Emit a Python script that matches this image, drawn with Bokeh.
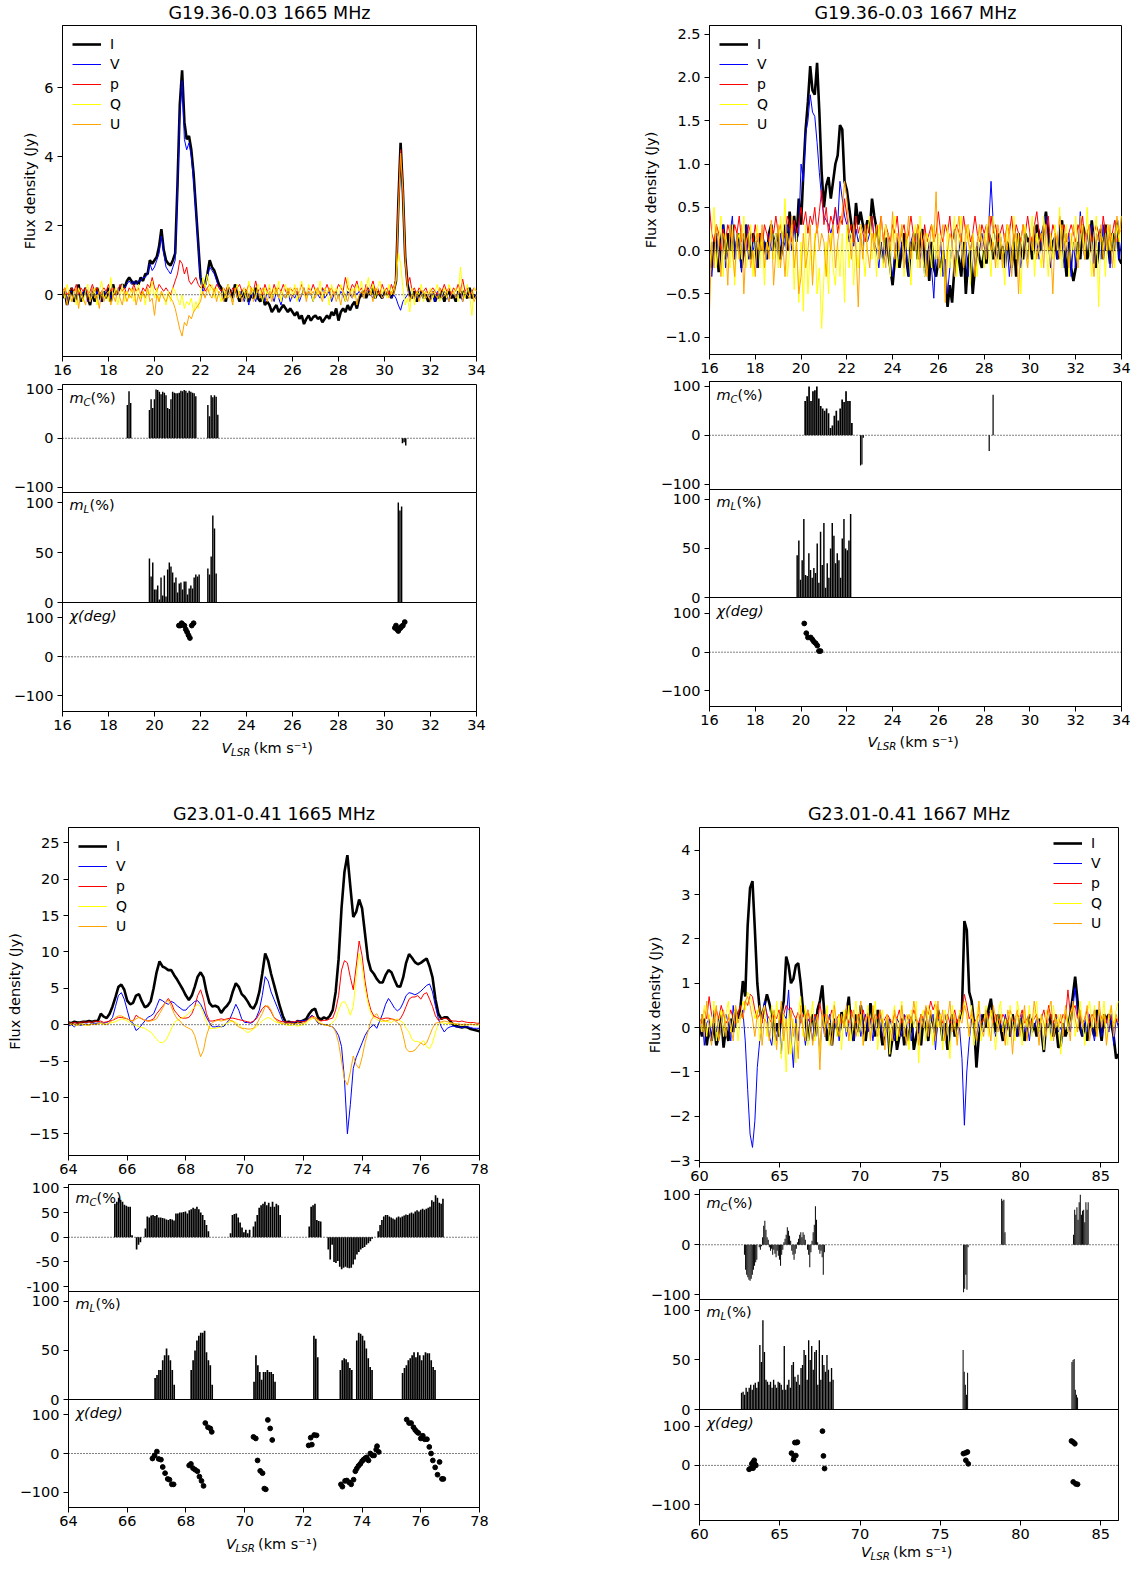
import numpy as np
from bokeh.plotting import figure
from bokeh.layouts import column, row
from bokeh.models import Range1d, FixedTicker, Span, Label, Legend, LegendItem, CustomJSTickFormatter
from bokeh.embed import file_html
from bokeh.resources import INLINE

FONT = "DejaVu Sans"

# ====================== Panel A : G19.36-0.03 1665 MHz ======================
A_TITLE = "G19.36-0.03 1665 MHz"
A_VEL = (16.0, 34.0)
A_I = [-0.1, 0.1, -0.3, 0.0, 0.2, -0.2, -0.1, 0.3, -0.2, 0.0,
       0.2, -0.1, -0.3, 0.1, -0.2, 0.2, 0.0, -0.2, 0.1, -0.1,
       0.2, -0.2, 0.3, 0.0, 0.1, 0.2, 0.3, 0.2, 0.4, 0.5,
       0.4, 0.3, 0.4, 0.3, 0.5, 0.4, 0.6, 0.6, 1.0, 0.9,
       1.0, 1.1, 1.4, 1.9, 1.3, 1.0, 0.9, 0.85, 1.0, 1.2,
       3.2, 5.5, 6.5, 5.0, 4.5, 4.6, 4.2, 3.5, 2.5, 1.5,
       0.5, 0.2, 0.3, 0.6, 1.0, 0.8, 0.7, 0.5, 0.3, 0.2,
       0.0, -0.2, 0.2, 0.1, -0.1, 0.3, 0.0, -0.2, 0.1, -0.1,
       0.1, -0.2, 0.0, -0.1, 0.2, -0.1, -0.2, 0.0, -0.3, -0.2,
       -0.3, -0.5, -0.4, -0.3, -0.5, -0.4, -0.3, -0.4, -0.5, -0.4,
       -0.5, -0.6, -0.5, -0.7, -0.6, -0.85, -0.7, -0.6, -0.75, -0.65,
       -0.6, -0.7, -0.65, -0.8, -0.7, -0.6, -0.7, -0.5, -0.6, -0.4,
       -0.75, -0.5, -0.4, -0.5, -0.3, -0.45, -0.3, -0.2, -0.4, -0.1,
       0.0, 0.1, -0.1, 0.1, 0.0, 0.2, -0.1, 0.1, 0.0, -0.1,
       0.1, 0.0, 0.1, -0.1, 0.1, 0.4, 2.6, 4.4, 3.0, 1.1,
       0.3, 0.0, -0.1, 0.1, -0.2, 0.0, 0.1, -0.1, 0.0, -0.2,
       -0.1, 0.1, -0.2, 0.0, -0.1, 0.1, -0.2, 0.0, 0.1, -0.1,
       0.0, -0.2, 0.1, -0.1, 0.1, 0.0, -0.1, 0.2, -0.1, 0.0,
       -0.1]
A_V = [0.0, 0.1, -0.2, 0.1, 0.1, -0.1, 0.0, 0.2, -0.1, 0.1,
       0.1, -0.2, -0.1, 0.2, -0.1, 0.1, -0.1, -0.2, 0.1, 0.0,
       0.1, -0.1, 0.2, 0.1, 0.0, 0.2, 0.3, 0.2, 0.3, 0.4,
       0.3, 0.4, 0.3, 0.4, 0.4, 0.5, 0.5, 0.6, 0.9, 0.7,
       0.8, 1.0, 1.2, 1.7, 1.2, 0.8, 0.7, 0.6, 0.8, 1.0,
       3.0, 5.2, 6.2, 4.5, 4.2, 4.4, 4.0, 3.3, 2.4, 1.4,
       0.4, 0.1, 0.2, 0.5, 0.8, 0.7, 0.6, 0.4, 0.2, 0.1,
       0.1, -0.1, 0.2, 0.0, -0.2, 0.1, 0.0, -0.1, 0.1, -0.2,
       0.0, -0.3, 0.1, 0.0, -0.2, 0.1, -0.1, 0.0, -0.2, 0.1,
       -0.1, 0.0, -0.2, 0.1, -0.1, -0.3, 0.0, -0.1, 0.1, -0.2,
       0.0, -0.1, 0.1, -0.2, 0.0, 0.2, -0.1, 0.1, 0.0, -0.2,
       0.1, 0.0, -0.1, 0.2, -0.1, 0.0, 0.1, -0.2, 0.0, 0.1,
       -0.1, 0.1, 0.0, -0.2, 0.1, 0.0, -0.1, 0.1, 0.0, 0.1,
       0.0, -0.1, 0.1, 0.2, 0.0, -0.1, 0.1, 0.0, 0.1, -0.1,
       0.1, 0.0, 0.1, -0.1, 0.0, -0.1, -0.3, -0.45, -0.2, -0.1,
       0.0, 0.1, -0.1, 0.0, -0.1, 0.1, 0.0, -0.1, 0.1, 0.0,
       -0.1, 0.1, -0.2, 0.1, 0.0, -0.1, 0.1, 0.0, -0.2, 0.1,
       0.0, -0.1, 0.1, 0.0, -0.2, 0.1, 0.0, -0.1, 0.1, 0.0,
       -0.1]
A_P = [0.1, 0.2, 0.0, 0.1, 0.2, 0.1, 0.3, 0.0, 0.2, 0.1,
       0.2, 0.0, 0.1, 0.3, 0.1, 0.2, 0.0, 0.1, 0.2, 0.1,
       0.3, 0.1, 0.2, 0.0, 0.1, 0.3, 0.1, 0.2, 0.0, 0.2,
       0.1, 0.3, 0.1, 0.2, 0.0, 0.2, 0.1, 0.3, 0.2, 0.5,
       0.2, 0.1, 0.3, 0.2, 0.1, 0.2, 0.1, 0.0, 0.2, 0.4,
       0.6, 1.0, 0.9, 0.6, 0.8, 0.4, 0.3, 0.4, 0.5, 0.3,
       0.2, 0.3, 0.1, 0.2, 0.3, 0.2, 0.1, 0.3, 0.2, 0.1,
       0.2, 0.1, 0.3, 0.0, 0.2, 0.1, 0.2, 0.3, 0.1, 0.2,
       0.1, 0.3, 0.2, 0.1, 0.4, 0.1, 0.2, 0.0, 0.3, 0.1,
       0.2, 0.0, 0.3, 0.1, 0.2, 0.1, 0.3, 0.1, 0.0, 0.2,
       0.1, 0.2, 0.0, 0.1, 0.3, 0.1, 0.0, 0.2, 0.1, 0.3,
       0.1, 0.2, 0.0, 0.2, 0.1, 0.3, 0.1, 0.2, 0.0, 0.1,
       0.3, 0.2, 0.1, 0.5, 0.2, 0.1, 0.3, 0.2, 0.4, 0.1,
       0.2, 0.0, 0.3, 0.1, 0.2, 0.4, 0.1, 0.2, 0.0, 0.3,
       0.1, 0.2, 0.0, 0.3, 0.1, 0.5, 2.6, 4.2, 3.1, 1.2,
       0.3, 0.5, 0.1, 0.2, 0.0, 0.2, 0.1, 0.1, 0.2, 0.0,
       0.1, 0.2, 0.1, 0.0, 0.2, 0.1, 0.3, 0.1, 0.2, 0.0,
       0.2, 0.1, 0.3, 0.1, 0.45, 0.1, 0.2, 0.0, 0.1, 0.2,
       0.1]
A_Q = [0.2, -0.1, 0.3, 0.0, -0.2, 0.1, -0.3, 0.2, 0.0, -0.2,
       0.1, 0.3, -0.2, 0.0, 0.2, -0.3, 0.1, 0.4, -0.1, 0.0,
       -0.2, 0.5, -0.1, 0.2, -0.3, 0.0, 0.3, -0.2, 0.1, -0.1,
       0.2, -0.2, 0.0, 0.3, -0.1, 0.1, -0.3, 0.2, 0.0, 0.4,
       -0.1, 0.2, -0.2, 0.1, 0.0, -0.3, 0.1, -0.2, 0.2, 0.1,
       -0.1, -0.3, 0.0, -0.4, -0.2, -0.3, -0.1, -0.5, -0.2, -0.4,
       0.0, 0.5, 0.2, 0.6, 0.1, 0.3, -0.1, 0.2, 0.0, -0.2,
       0.2, -0.1, 0.3, 0.0, -0.2, 0.1, 0.3, -0.1, 0.0, 0.2,
       -0.2, 0.4, 0.0, 0.2, -0.1, 0.3, 0.1, -0.2, 0.2, 0.0,
       0.3, -0.1, 0.2, 0.0, 0.4, -0.2, 0.1, 0.3, -0.1, 0.2,
       0.0, 0.3, -0.2, 0.1, 0.4, 0.0, -0.1, 0.3, 0.1, -0.2,
       0.2, 0.0, 0.4, -0.1, 0.2, 0.1, -0.3, 0.3, 0.0, 0.2,
       -0.1, 0.3, 0.1, -0.2, 0.5, 0.0, 0.2, -0.1, 0.3, 0.1,
       0.4, -0.1, 0.2, 0.5, 0.0, 0.3, -0.1, 0.2, 0.4, 0.0,
       0.2, -0.1, 0.3, 0.0, 0.2, 0.4, 1.2, 0.9, 0.2, -0.3,
       -0.1, -0.5, 0.2, -0.3, 0.1, 0.0, 0.3, -0.2, 0.1, 0.0,
       0.2, -0.1, 0.1, 0.3, -0.2, 0.0, 0.2, -0.1, 0.3, 0.1,
       0.0, 0.2, -0.2, 0.8, 0.1, -0.1, 0.3, 0.0, -0.6, 0.2,
       0.1]
A_U = [-0.1, 0.2, -0.3, 0.1, -0.2, 0.0, 0.2, -0.4, 0.1, -0.1,
       -0.3, 0.1, -0.2, 0.2, -0.1, 0.0, -0.4, 0.1, -0.2, 0.0,
       0.1, -0.3, 0.0, -0.2, 0.2, -0.1, -0.3, 0.1, -0.2, 0.0,
       -0.1, 0.2, -0.3, 0.0, -0.2, 0.1, -0.1, 0.2, -0.2, -0.1,
       -0.6, 0.0, -0.2, 0.1, -0.1, -0.2, 0.0, -0.1, -0.2, -0.4,
       -0.7, -1.0, -1.2, -0.8, -0.9, -0.6, -0.7, -0.5, -0.4, -0.3,
       -0.2, 0.1, -0.1, 0.2, 0.0, -0.1, 0.2, -0.2, 0.1, 0.0,
       -0.2, 0.1, -0.1, 0.0, -0.3, 0.2, -0.1, 0.1, -0.2, 0.0,
       0.1, -0.1, 0.2, -0.2, 0.0, 0.1, -0.1, 0.2, 0.0, -0.2,
       0.1, -0.2, 0.0, 0.2, -0.1, 0.1, 0.0, -0.1, 0.2, 0.0,
       -0.1, 0.1, 0.2, -0.1, 0.0, 0.2, -0.2, 0.1, 0.0, 0.1,
       -0.1, 0.2, 0.0, -0.2, 0.1, 0.0, 0.2, -0.1, 0.1, -0.2,
       0.0, -0.3, 0.1, 0.0, -0.2, 0.1, -0.1, 0.2, -0.3, 0.0,
       0.1, -0.1, 0.2, 0.0, 0.1, -0.2, 0.2, 0.0, 0.1, -0.1,
       0.0, 0.1, -0.1, 0.1, 0.0, 0.4, 2.4, 4.1, 3.0, 1.0,
       0.2, -0.2, 0.0, -0.1, 0.1, -0.2, 0.0, 0.1, -0.1, 0.0,
       -0.2, 0.1, 0.0, -0.1, 0.2, -0.1, 0.0, 0.1, -0.2, 0.0,
       0.1, -0.1, 0.0, 0.2, -0.2, 0.1, 0.0, -0.1, 0.1, -0.2,
       0.0]
A_MC = [(18.82, 0.072, [68, 96, 72]),
        (19.78, 0.072, [58, 80, 62, 80, 100, 99, 95, 90, 95, 93, 88, 62, 60, 80, 95, 93, 92, 92, 93,
                        97, 96, 99, 97, 93, 97, 95, 93, 92, 86]),
        (22.32, 0.072, [68, 45, 88, 84, 88, 85, 48]),
        (30.78, 0.072, [-10, -8, -15])]
A_ML = [(19.78, 0.072, [44, 26, 40, 13, 13, 17, 3, 25, 7, 27, 6, 33, 40, 36, 30, 20, 25, 10, 19, 20,
                        13, 21, 21, 8, 14, 17, 14, 25, 28, 26, 28]),
        (22.32, 0.072, [34, 28, 46, 87, 74, 29]),
        (30.6, 0.072, [100, 92, 96])]
A_CHI_V = [21.06, 21.12, 21.18, 21.24, 21.3, 21.36, 21.42, 21.48, 21.54, 21.62, 21.7,
           30.45, 30.5, 30.55, 30.6, 30.65, 30.7, 30.75, 30.8, 30.88]
A_CHI = [80, 80, 86, 82, 80, 70, 63, 55, 48, 80, 86,
         74, 80, 70, 66, 72, 74, 78, 80, 89]

# ====================== Panel B : G19.36-0.03 1667 MHz ======================
B_TITLE = "G19.36-0.03 1667 MHz"
B_VEL = (16.0, 34.0)
B_I = [0.0, -0.2, 0.1, 0.2, -0.25, 0.1, 0.3, -0.1, 0.2, 0.0,
       0.3, -0.1, 0.1, 0.2, -0.2, 0.0, 0.3, 0.1, -0.1, 0.2,
       0.1, -0.2, 0.2, 0.0, 0.1, -0.1, 0.2, 0.3, 0.0, 0.1,
       0.2, -0.1, 0.1, 0.3, 0.0, 0.45, 0.2, 0.4, 0.1, 0.6,
       0.3, 0.9, 1.4, 1.72, 2.13, 1.85, 1.8, 2.17, 1.6, 0.9,
       0.5, 0.75, 0.85, 0.6, 0.8, 1.0, 1.1, 1.45, 1.4, 0.8,
       0.7, 0.5, 0.3, 0.1, 0.55, 0.3, 0.45, 0.3, 0.2, 0.35,
       0.2, 0.6, 0.4, 0.25, 0.1, 0.0, -0.1, 0.15, 0.0, -0.2,
       -0.4, -0.1, 0.1, -0.2, 0.0, 0.2, -0.1, -0.3, 0.1, 0.0,
       0.2, -0.1, 0.1, 0.25, -0.2, 0.0, -0.35, 0.1, -0.2, -0.3,
       -0.1, -0.2, 0.0, -0.3, -0.65, -0.4, -0.6, -0.2, 0.0, -0.1,
       -0.3, 0.1, -0.5, -0.1, 0.0, -0.5, -0.2, 0.05, -0.1, -0.2,
       0.0, -0.15, 0.2, 0.1, -0.1, 0.0, 0.2, -0.1, 0.05, -0.2,
       0.1, 0.0, -0.2, 0.1, -0.3, 0.2, 0.0, -0.1, 0.2, 0.1,
       0.15, -0.1, 0.1, 0.3, 0.2, 0.0, 0.25, 0.45, 0.2, 0.0,
       0.1, 0.15, -0.1, 0.2, 0.35, 0.0, -0.3, 0.1, -0.2, -0.35,
       -0.2, 0.1, -0.1, 0.3, 0.2, -0.1, 0.0, 0.35, 0.1, -0.2,
       0.0, 0.25, -0.1, 0.3, 0.1, -0.15, 0.2, 0.0, 0.35, -0.1,
       -0.15]
B_V = [0.1, -0.3, 0.0, 0.2, -0.1, 0.1, 0.3, -0.2, 0.0, 0.2,
       0.4, -0.1, 0.2, 0.0, -0.25, 0.1, 0.3, -0.1, 0.2, 0.0,
       0.1, -0.2, 0.0, 0.2, 0.1, -0.1, 0.2, 0.0, 0.1, 0.2,
       -0.1, 0.2, 0.0, 0.1, 0.3, 0.2, 0.0, 0.3, 0.1, 0.2,
       1.0, 0.8, 1.35, 1.5, 1.8, 1.6, 1.55, 1.25, 0.9, 0.6,
       0.4, 0.35, 0.3, 0.2, 0.3, 0.5, 0.3, 0.8, 0.6, 0.4,
       0.3, 0.1, 0.2, 0.05, 0.25, 0.1, 0.2, 0.0, 0.3, 0.1,
       0.2, 0.4, 0.1, 0.0, -0.2, 0.1, -0.15, 0.0, 0.2, -0.1,
       -0.3, 0.0, 0.15, -0.1, 0.1, -0.2, 0.0, -0.3, 0.1, 0.2,
       0.0, 0.2, -0.1, 0.1, -0.3, -0.1, 0.1, -0.2, -0.55, 0.0,
       -0.2, 0.1, -0.3, -0.1, -0.5, -0.2, 0.1, 0.25, -0.1, 0.0,
       0.2, -0.1, 0.1, -0.3, 0.0, 0.15, -0.2, 0.1, 0.0, 0.2,
       0.05, -0.1, 0.3, 0.8, 0.3, 0.1, -0.1, 0.2, 0.0, -0.2,
       0.1, -0.3, 0.0, 0.2, -0.1, 0.1, -0.2, 0.0, 0.15, -0.1,
       0.2, 0.0, 0.3, 0.1, -0.1, 0.2, 0.3, 0.4, 0.1, -0.2,
       0.0, 0.2, -0.1, 0.3, 0.1, -0.2, 0.0, 0.2, -0.3, 0.1,
       -0.2, 0.0, 0.45, 0.1, -0.1, 0.2, 0.0, 0.3, -0.15, 0.1,
       0.2, -0.1, 0.3, 0.0, 0.2, -0.2, 0.1, 0.0, 0.2, -0.1,
       0.1]
B_P = [0.5, 0.2, 0.1, 0.3, 0.2, 0.0, 0.25, 0.1, 0.3, 0.2,
       0.1, 0.3, 0.2, 0.4, 0.1, 0.2, 0.0, 0.3, 0.2, 0.1,
       0.3, 0.1, 0.2, 0.0, 0.3, 0.2, 0.1, 0.3, 0.2, 0.4,
       0.2, 0.3, 0.1, 0.2, 0.4, 0.3, 0.1, 0.35, 0.2, 0.3,
       0.5, 0.3, 0.45, 0.2, 0.4, 0.3, 0.5, 0.2, 0.45, 0.7,
       0.3, 0.5, 0.2, 0.4, 0.3, 0.5, 0.2, 0.4, 0.3, 0.6,
       0.4, 0.2, 0.3, 0.1, 0.4, 0.2, 0.3, 0.2, 0.1, 0.3,
       0.2, 0.4, 0.1, 0.3, 0.2, 0.4, 0.1, 0.3, 0.2, 0.1,
       0.3, 0.2, 0.4, 0.1, 0.2, 0.3, 0.1, 0.2, 0.4, 0.2,
       0.1, 0.3, 0.2, 0.0, 0.3, 0.1, 0.2, 0.3, 0.1, 0.2,
       0.45, 0.2, 0.1, 0.3, 0.2, 0.4, 0.1, 0.2, 0.3, 0.2,
       0.1, 0.4, 0.2, 0.3, 0.1, 0.2, 0.4, 0.2, 0.1, 0.3,
       0.2, 0.3, 0.1, 0.4, 0.2, 0.3, 0.1, 0.2, 0.3, 0.1,
       0.3, 0.2, 0.4, 0.1, 0.3, 0.2, 0.1, 0.3, 0.2, 0.4,
       0.2, 0.1, 0.3, 0.45, 0.2, 0.1, 0.3, 0.2, 0.4, 0.1,
       0.3, 0.2, 0.1, 0.4, 0.2, 0.3, 0.1, 0.2, 0.3, 0.2,
       0.1, 0.3, 0.2, 0.4, 0.1, 0.2, 0.3, 0.1, 0.2, 0.3,
       0.2, 0.1, 0.4, 0.2, 0.3, 0.1, 0.2, 0.35, 0.1, 0.2,
       0.25]
B_Q = [-0.3, 0.2, 0.5, -0.2, 0.1, 0.4, -0.3, 0.2, 0.0, -0.2,
       0.3, -0.4, 0.1, 0.2, -0.1, 0.4, -0.2, 0.0, 0.3, -0.3,
       0.1, 0.3, -0.2, 0.2, -0.4, 0.1, 0.0, 0.3, -0.1, 0.2,
       -0.2, 0.4, 0.1, 0.6, -0.3, 0.0, 0.3, -0.45, 0.2, -0.6,
       0.1, -0.7, 0.3, -0.5, 0.0, -0.3, 0.2, -0.5, -0.2, -0.9,
       -0.3, 0.1, -0.5, 0.2, -0.2, -0.4, 0.1, -0.3, 0.2, -0.6,
       0.3, -0.2, 0.2, -0.4, 0.1, -0.2, 0.3, 0.0, -0.3, 0.2,
       0.4, -0.1, 0.2, -0.3, 0.3, 0.0, -0.2, 0.3, 0.1, -0.3,
       0.2, 0.4, -0.2, 0.1, 0.3, -0.3, 0.2, 0.0, -0.4, 0.1,
       0.3, -0.2, 0.4, 0.0, -0.3, 0.2, 0.1, -0.2, 0.3, -0.1,
       0.2, -0.3, 0.0, -0.5, 0.3, -0.2, 0.1, 0.4, -0.3, 0.2,
       0.4, -0.2, 0.1, 0.3, -0.4, 0.2, 0.0, -0.3, 0.3, 0.1,
       -0.2, 0.3, 0.0, -0.3, 0.4, 0.1, -0.2, 0.2, 0.0, -0.4,
       0.3, 0.1, -0.2, 0.4, -0.1, 0.2, -0.5, 0.1, 0.3, -0.2,
       0.1, 0.4, -0.3, 0.2, 0.0, -0.2, 0.4, 0.1, -0.3, 0.2,
       -0.1, 0.3, 0.0, 0.5, -0.2, 0.1, 0.3, -0.3, 0.2, 0.0,
       0.4, -0.2, 0.1, 0.3, -0.1, 0.5, 0.0, -0.3, 0.2, 0.4,
       -0.65, 0.2, 0.1, -0.3, 0.3, 0.0, 0.2, -0.2, 0.3, 0.1,
       0.4]
B_U = [-0.7, 0.1, -0.2, 0.3, 0.0, -0.3, 0.2, 0.1, -0.4, 0.3,
       0.0, -0.3, 0.2, -0.1, 0.3, -0.5, 0.1, 0.2, -0.2, 0.0,
       -0.3, 0.2, 0.0, 0.3, -0.2, 0.1, -0.1, 0.35, -0.4, 0.0,
       0.3, -0.2, 0.1, -0.3, 0.2, 0.0, 0.4, -0.2, 0.1, -0.5,
       -0.3, 0.2, -0.2, 0.0, 0.3, -0.4, 0.1, 0.3, 0.0, 0.2,
       0.1, -0.3, 0.2, 0.0, 0.3, -0.2, 0.1, 0.3, 0.45, 0.8,
       0.6, 0.2, -0.1, 0.3, 0.0, -0.65, 0.2, -0.1, 0.3, 0.0,
       -0.2, 0.2, 0.0, 0.3, -0.1, 0.4, 0.1, -0.2, 0.2, 0.0,
       0.45, -0.1, 0.2, 0.0, 0.3, -0.2, 0.1, 0.4, -0.1, 0.2,
       0.0, 0.3, -0.2, 0.1, 0.2, -0.3, 0.0, 0.3, 0.1, 0.68,
       -0.2, 0.1, 0.3, -0.6, 0.0, 0.2, 0.1, -0.3, 0.2, 0.4,
       0.0, -0.2, 0.3, 0.1, 0.0, 0.2, -0.3, 0.1, 0.3, 0.0,
       0.2, -0.1, 0.4, 0.0, 0.1, -0.2, 0.3, 0.1, -0.2, 0.2,
       0.0, 0.3, -0.3, 0.1, 0.2, -0.5, 0.1, 0.3, 0.0, -0.2,
       0.2, 0.0, 0.3, -0.1, 0.1, 0.2, -0.2, 0.3, 0.0, 0.1,
       -0.5, 0.2, 0.1, -0.1, 0.3, 0.0, 0.2, -0.2, 0.1, 0.3,
       0.0, -0.2, 0.4, 0.1, -0.1, 0.2, 0.3, 0.0, -0.3, 0.2,
       0.1, 0.3, -0.1, 0.2, 0.0, 0.3, -0.2, 0.1, 0.4, 0.2,
       0.4]
B_MC = [(20.18, 0.085, [70, 80, 100, 70, 90, 92, 100, 75, 60, 55, 50, 55, 45, 15, 20, 40, 50, 30, 55,
                        73, 68, 90, 70, 70, 25]),
        (22.6, 0.06, [-62, -60, -5]),
        (28.22, 0.06, [-32]),
        (28.39, 0.06, [83])]
B_ML = [(19.83, 0.073, [43, 58, 18, 38, 80, 23, 22, 45, 28, 20, 30, 25, 55, 15, 67, 33, 76, 10, 35, 20,
                        50, 76, 63, 35, 45, 38, 20, 60, 80, 50, 48, 58, 85])]
B_CHI_V = [20.14, 20.23, 20.3, 20.42, 20.49, 20.56, 20.64, 20.71, 20.78, 20.85]
B_CHI = [74, 49, 38, 38, 33, 27, 23, 17, 3, 3]

# ====================== Panel C : G23.01-0.41 1665 MHz ======================
C_TITLE = "G23.01-0.41 1665 MHz"
C_VEL = (64.0, 78.0)
C_I = [0.3, 0.2, 0.4, 0.3, 0.3, 0.4, 0.4, 0.5, 0.4, 0.5,
       0.5, 1.5, 1.1, 0.9, 1.5, 2.5, 3.8, 5.2, 5.5, 4.8,
       3.3, 2.8, 3.0, 4.0, 4.2, 3.2, 2.4, 2.6, 3.2, 5.0,
       7.2, 8.7, 8.0, 7.8, 7.5, 7.5, 6.8, 6.2, 5.5, 4.8,
       4.0, 3.4, 4.0, 5.2, 6.6, 7.2, 6.5, 4.5, 3.0, 2.5,
       2.6, 2.4, 1.6, 2.2, 2.6, 3.2, 4.6, 5.7, 5.2, 4.2,
       3.8, 3.2, 2.5, 2.2, 3.0, 4.5, 7.0, 9.8, 8.8, 7.0,
       5.5, 4.0, 2.5, 1.2, 0.3, 0.4, 0.3, 0.2, 0.5, 0.4,
       0.6, 0.8, 1.5, 2.0, 2.2, 1.0, 0.7, 1.0, 0.8, 1.2,
       2.0, 4.5, 9.0, 16.0, 21.0, 23.3, 19.0, 14.8, 15.5, 17.2,
       16.0, 12.5, 9.0, 7.5, 7.0, 6.3, 5.8, 5.8, 6.8, 7.5,
       7.2, 6.2, 5.3, 5.2, 6.5, 8.5, 9.7, 9.2, 8.6, 8.3,
       8.5, 8.8, 9.1, 8.0, 6.5, 3.5, 1.5, 0.8, 1.0, 1.0,
       0.5, 0.0, -0.2, -0.3, -0.4, -0.3, -0.4, -0.6, -0.7, -0.8,
       -0.9]
C_V = [-0.2, 0.0, -0.3, 0.1, -0.1, 0.0, 0.1, 0.0, 0.2, 0.1,
       0.2, 0.3, 0.2, 0.3, 0.5, 1.0, 2.5, 4.0, 4.4, 3.5,
       2.0, 0.5, 0.2, -0.8, -0.5, 0.0, 0.5, 1.0, 1.2, 1.5,
       2.5, 3.5, 3.3, 3.0, 2.8, 3.2, 3.0, 2.6, 2.3, 2.0,
       2.0, 2.5, 2.8, 3.2, 3.3, 2.8, 2.0, 1.0, 0.3, -0.3,
       -0.3, -0.2, -0.3, -0.2, 0.3, 0.8, 1.8, 2.8, 2.0, 0.8,
       0.3, 0.3, 0.2, 0.4, 1.0, 2.0, 4.0, 6.6, 6.0, 4.5,
       3.5, 2.5, 1.5, 0.5, 0.2, 0.3, 0.4, 0.3, 0.5, 0.5,
       0.6, 0.5, 1.0, 1.3, 0.8, 0.2, 0.1, 0.0, 0.0, -0.2,
       -0.3, -0.8, -1.5, -3.0, -7.5, -15.0, -11.0, -6.0, -4.5, -3.5,
       -2.5, -1.5, -0.8, -0.3, 0.0, -0.5, 0.5, 1.5, 2.8, 3.6,
       3.0, 2.3, 1.9, 2.2, 3.0, 4.0, 4.4, 4.3, 4.1, 4.3,
       4.6, 5.0, 5.4, 5.6, 4.5, 2.5, 0.8, -0.3, -1.0, -0.5,
       -0.3, -0.2, -0.3, -0.3, -0.4, -0.3, -0.3, -0.4, -0.5, -0.5,
       -0.5]
C_P = [0.3, 0.2, 0.3, 0.2, 0.3, 0.4, 0.3, 0.4, 0.3, 0.5,
       0.4, 0.5, 0.3, 0.4, 0.5, 0.6, 0.8, 1.0, 1.0, 0.9,
       0.8, 0.6, 0.5, 1.3, 1.0, 0.8, 0.6, 0.5, 0.6, 0.8,
       1.5, 2.0, 2.5, 3.0, 3.6, 3.0, 2.0, 1.5, 1.0, 0.9,
       0.9, 1.0, 1.5, 2.5, 4.0, 4.8, 3.5, 1.5, 0.5, 0.5,
       0.6, 0.7, 0.8, 0.7, 0.8, 0.9, 0.9, 0.8, 0.7, 0.6,
       0.5, 0.4, 0.3, 0.5, 0.8, 1.5, 2.2, 2.6, 2.4, 1.8,
       1.0, 0.7, 0.5, 0.4, 0.4, 0.3, 0.4, 0.4, 0.5, 0.4,
       0.4, 0.5, 0.8, 1.2, 1.0, 0.7, 0.5, 0.6, 0.6, 0.8,
       0.9, 2.0, 4.0, 7.5, 8.8, 8.5, 6.5, 4.8, 8.0, 11.5,
       9.5, 6.0, 3.5, 2.0, 1.2, 1.0, 0.8, 0.8, 0.9, 0.9,
       0.8, 0.7, 0.6, 0.8, 1.5, 2.5, 3.5, 3.8, 3.8, 4.0,
       3.5, 4.2, 4.4, 3.5, 2.5, 1.2, 0.6, 0.8, 0.9, 0.8,
       0.6, 0.5, 0.5, 0.4, 0.5, 0.4, 0.3, 0.3, 0.3, 0.2,
       0.2]
C_Q = [0.0, 0.1, -0.1, 0.0, 0.1, 0.0, -0.1, 0.0, 0.1, 0.0,
       0.1, 0.2, 0.0, 0.1, 0.2, 0.3, 0.4, 0.6, 0.8, 0.7,
       0.5, 0.3, 0.0, -0.1, -0.3, -0.4, -0.5, -0.8, -1.0, -1.5,
       -2.0, -2.4, -2.5, -2.2, -1.5, -0.6, 0.3, 0.6, 0.8, 1.0,
       1.2, 1.6, 2.0, 2.4, 2.8, 2.5, 1.5, 0.3, -0.5, -0.5,
       -0.5, -0.4, -0.3, 0.0, 0.2, 0.4, 0.5, 0.3, 0.0, -0.4,
       -0.8, -1.1, -0.9, -0.6, -0.3, 0.1, 0.5, 0.8, 1.0, 0.8,
       0.5, 0.3, 0.2, 0.1, 0.0, -0.1, -0.1, 0.0, -0.2, -0.1,
       0.0, 0.2, 0.6, 0.8, 1.0, 0.5, 0.2, 0.0, -0.1, 0.0,
       0.3, 0.8, 2.0, 3.0, 3.2, 2.5, 1.3, 2.5, 6.5, 9.8,
       8.0, 5.0, 3.0, 1.5, 1.0, 0.7, 0.5, 0.4, 0.5, 0.4,
       0.3, 0.6, 0.8, 0.5, 0.3, -0.5, -1.0, -2.0, -2.3, -2.3,
       -2.5, -2.2, -3.0, -3.3, -2.5, -1.0, 0.0, 0.3, 0.2, 0.1,
       0.2, 0.1, 0.0, 0.1, -0.1, 0.0, -0.1, 0.1, 0.0, -0.1,
       0.0]
C_U = [0.1, 0.0, 0.1, -0.1, 0.0, 0.1, 0.0, -0.1, 0.1, 0.0,
       0.1, 0.3, 0.1, 0.0, 0.3, 0.6, 1.0, 1.2, 1.2, 1.0,
       0.8, 0.6, 0.5, 0.8, 1.0, 0.8, 0.6, 0.5, 0.5, 0.6,
       0.8, 1.5, 2.2, 3.0, 3.4, 2.5, 1.5, 0.8, 0.5, 0.0,
       -0.3, -0.5, -0.7, -1.5, -3.0, -4.4, -3.5, -1.5, -0.3, 0.3,
       0.5, 0.6, 0.5, 0.6, 0.7, 0.6, 0.5, 0.0, -0.3, -0.5,
       -0.5, -0.6, -0.6, -0.5, 0.0, 0.8, 1.5, 2.5, 2.6, 2.0,
       1.0, 0.5, 0.3, 0.2, 0.2, 0.1, 0.2, 0.1, 0.2, 0.1,
       0.2, 0.4, 0.8, 1.0, 0.8, 0.3, 0.1, 0.0, -0.1, -0.2,
       -0.3, -1.0, -2.5, -5.0, -7.5, -8.3, -6.5, -4.3, -5.5, -6.0,
       -4.5, -2.5, -1.0, 0.5, 1.2, 1.5, 0.8, 0.6, 0.5, 0.6,
       0.8, 0.6, 0.3, 0.0, -1.5, -3.3, -3.7, -3.7, -3.5, -3.0,
       -2.5, -2.8, -2.5, -1.5, -0.5, 0.2, 0.3, 0.4, 0.5, 0.4,
       0.3, 0.2, 0.1, 0.1, 0.0, 0.1, 0.0, 0.1, 0.0, 0.1,
       0.0]
C_MC = [(65.58, 0.065, [68, 72, 80, 76, 72, 66, 64, 62, 62, 4]),
        (66.32, 0.065, [-25, -15, -10]),
        (66.62, 0.065, [18, 42, 40, 44, 45, 43, 45, 40, 40, 39, 38, 36, 35, 37, 36, 34, 48, 48, 50, 50,
                        51, 52, 48, 55, 57, 60, 58, 62, 57, 50, 45, 35, 25, 12]),
        (69.52, 0.065, [8, 45, 47, 48, 40, 30, 20, 10, 15, 8, 15]),
        (70.3, 0.065, [22, 32, 45, 60, 65, 68, 72, 65, 70, 62, 72, 62, 68, 65, 45]),
        (72.2, 0.065, [22, 62, 65, 68, 35, 33, 32]),
        (72.85, 0.065, [-25, -45, -15, -50, -52, -48, -60, -65, -62, -60, -62, -63, -62, -55, -45, -35,
                        -30, -25, -22, -20, -15, -12, -8, -3]),
        (74.55, 0.063, [12, 25, 35, 42, 45, 45, 42, 40, 38, 36, 40, 42, 40, 42, 44, 46, 45, 48, 50, 48,
                        52, 55, 52, 56, 58, 56, 58, 60, 62, 75, 72, 85, 80, 70, 68, 78])]
C_ML = [(66.95, 0.065, [22, 25, 30, 30, 40, 45, 52, 45, 40, 30, 15]),
        (68.18, 0.065, [30, 40, 50, 60, 65, 68, 68, 70, 48, 40, 35, 15]),
        (70.32, 0.065, [18, 45, 35, 28, 20, 28, 28, 30, 28, 28, 26, 18]),
        (72.36, 0.065, [65, 62, 43]),
        (73.26, 0.065, [30, 40, 42, 41, 38, 32, 30]),
        (73.82, 0.065, [60, 68, 67, 65, 60, 52, 42, 33, 30]),
        (75.38, 0.065, [27, 32, 35, 40, 42, 45, 48, 43, 48, 45, 40, 45, 48, 47, 47, 40, 33, 30])]
C_CHI_V = [66.86, 66.93, 67.01, 67.07, 67.15, 67.21, 67.29, 67.38, 67.44, 67.52, 67.58,
           68.11, 68.17, 68.24, 68.31, 68.39, 68.46, 68.53, 68.6,
           68.66, 68.75, 68.83, 68.88,
           70.3, 70.38, 70.44, 70.53, 70.61, 70.67, 70.72, 70.79, 70.87, 70.94,
           72.18, 72.29, 72.25, 72.37, 72.45,
           73.28, 73.33, 73.42, 73.48, 73.56, 73.63, 73.71, 73.77, 73.82, 73.88, 73.94, 74.0, 74.05,
           74.11, 74.16, 74.22, 74.28, 74.36, 74.41, 74.48, 74.51, 74.57,
           75.52, 75.6, 75.67, 75.75, 75.81, 75.87, 75.92, 76.0, 76.07, 76.13, 76.21, 76.29, 76.35,
           76.41, 76.49, 76.57, 76.64, 76.72, 76.77]
C_CHI = [-13, -5, 5, -14, -16, -35, -51, -66, -68, -80, -80,
         -31, -27, -38, -42, -46, -60, -71, -84,
         79, 68, 65, 56,
         43, 39, -18, -45, -51, -91, -93, 87, 65, 35,
         21, 23, 41, 48, 47,
         -80, -86, -71, -70, -75, -80, -68, -46, -39, -32, -27, -20, -16,
         -12, -10, -18, 0, -5, -5, 10, 19, 4,
         88, 79, 79, 68, 61, 56, 53, 39, 46, 37, 37, 17, 0,
         -18, -36, -55, -22, -66, -66]

# ====================== Panel D : G23.01-0.41 1667 MHz ======================
D_TITLE = "G23.01-0.41 1667 MHz"
D_VEL = (60.0, 86.1)
D_I = [0.1, -0.2, 0.2, -0.4, 0.0, -0.3, 0.1, -0.4, -0.2, 0.3,
       -0.45, 0.0, -0.3, 0.2, -0.1, 0.4, 0.2, 0.45, 1.05, 0.7,
       2.3, 3.15, 3.3, 2.2, 1.0, 0.4, 0.2, 0.5, 0.75, 0.55,
       0.3, -0.2, 0.1, -0.2, 0.3, 0.6, 1.6, 1.4, 1.0, 1.1,
       1.4, 1.45, 1.0, 0.4, 0.2, -0.3, 0.1, 0.3, -0.2, 0.4,
       0.6, 0.95, 0.2, -0.3, 0.1, -0.4, 0.2, 0.0, -0.2, 0.35,
       0.1, 0.3, 0.7, 0.0, -0.3, 0.3, -0.1, 0.5, 0.0, -0.3,
       0.2, 0.55, 0.1, -0.2, 0.4, 0.0, -0.4, -0.1, 0.2, -0.65,
       -0.3, 0.1, -0.5, -0.2, 0.2, -0.4, 0.0, -0.3, 0.25, -0.5,
       -0.2, 0.1, -0.4, 0.2, 0.0, -0.3, 0.3, 0.1, -0.2, 0.4,
       0.2, -0.3, 0.1, -0.5, 0.0, 0.3, -0.2, 0.1, 0.2, 0.4,
       2.4, 2.2, 0.8, 0.6, 0.1, -0.9, -0.2, 0.1, 0.3, 0.0,
       0.4, 0.65, 0.2, -0.1, 0.3, 0.0, -0.3, 0.2, 0.1, -0.2,
       0.3, 0.0, -0.2, 0.2, 0.1, -0.3, 0.0, 0.3, -0.1, 0.1,
       -0.2, 0.2, -0.1, -0.55, 0.1, 0.0, 0.3, -0.2, 0.1, -0.45,
       -0.4, 0.1, -0.2, 0.0, 0.3, 0.7, 1.15, 0.6, 0.0, -0.2,
       0.1, -0.3, 0.2, 0.0, -0.2, 0.4, 0.1, -0.3, 0.3, 0.2,
       0.3, 0.1, -0.2, -0.7, -0.6]
D_V = [-0.2, 0.3, -0.4, 0.1, 0.2, -0.3, 0.4, -0.1, 0.2, 0.0,
       -0.2, 0.3, 0.1, -0.3, 0.5, 0.0, 0.3, 0.2, 0.4, -0.3,
       -1.4, -2.4, -2.7, -2.1, -0.9, -0.3, 0.2, 0.6, 0.3, -0.2,
       -0.4, 0.1, -0.3, 0.2, -0.6, 0.3, 0.2, 0.85, -0.2, -0.9,
       0.2, -0.3, 0.3, 0.0, -0.4, 0.2, 0.1, -0.3, 0.3, 0.0,
       -0.5, 0.2, -0.2, 0.1, 0.3, -0.1, 0.0, 0.2, -0.3, 0.1,
       0.3, -0.2, 0.1, 0.2, -0.3, 0.0, 0.2, -0.2, 0.1, 0.3,
       -0.1, 0.2, -0.3, 0.1, 0.0, 0.3, -0.2, 0.1, -0.1, 0.2,
       0.0, -0.3, 0.2, 0.1, -0.2, 0.3, 0.0, 0.2, -0.3, 0.1,
       0.2, -0.1, 0.3, 0.0, 0.45, -0.2, 0.1, 0.3, -0.5, 0.2,
       0.1, -0.2, 0.3, 0.0, -0.3, 0.2, 0.1, -0.2, 0.0, -0.7,
       -2.2, -1.0, -0.3, 0.2, 0.0, -0.2, 0.1, 0.3, -0.1, 0.2,
       0.3, 0.4, 0.0, -0.2, 0.2, 0.1, -0.1, 0.3, 0.0, -0.2,
       0.1, 0.2, -0.2, 0.0, 0.3, -0.1, 0.1, -0.3, 0.2, 0.0,
       0.2, -0.1, 0.1, -0.5, 0.0, 0.2, -0.2, 0.1, 0.3, -0.1,
       0.0, -0.2, 0.3, 0.1, -0.1, 0.4, 0.9, 0.3, 0.1, -0.2,
       0.2, -0.1, 0.3, 0.0, -0.3, 0.1, 0.4, -0.2, 0.0, 0.2,
       -0.1, 0.3, -0.4, 0.2, 0.0]
D_P = [0.2, 0.1, 0.4, 0.2, 0.7, 0.3, 0.1, 0.4, 0.2, 0.5,
       0.3, 0.1, 0.2, 0.4, 0.2, 0.1, 0.3, 0.5, 0.2, 0.6,
       0.5, 0.75, 0.7, 0.4, 0.2, 0.3, 0.1, 0.5, 0.3, 0.2,
       0.1, 0.3, 0.2, 0.4, 0.1, 0.3, 0.5, 0.4, 0.45, 0.3,
       0.2, 0.35, 0.1, 0.3, 0.2, 0.4, 0.1, 0.2, 0.3, 0.1,
       0.55, 0.2, 0.3, 0.1, 0.2, 0.4, 0.1, 0.2, 0.3, 0.1,
       0.2, 0.3, 0.1, 0.4, 0.2, 0.1, 0.3, 0.2, 0.4, 0.1,
       0.3, 0.2, 0.1, 0.3, 0.2, 0.4, 0.1, 0.2, 0.3, 0.2,
       0.1, 0.3, 0.2, 0.4, 0.1, 0.2, 0.3, 0.1, 0.2, 0.4,
       0.2, 0.1, 0.3, 0.2, 0.45, 0.3, 0.6, 0.4, 0.55, 0.2,
       0.3, 0.1, 0.2, 0.3, 0.1, 0.2, 0.4, 0.1, 0.3, 0.4,
       0.75, 0.5, 0.2, 0.3, 0.1, 0.2, 0.3, 0.1, 0.2, 0.3,
       0.2, 0.4, 0.1, 0.3, 0.2, 0.1, 0.3, 0.2, 0.1, 0.4,
       0.2, 0.1, 0.3, 0.2, 0.4, 0.1, 0.2, 0.3, 0.1, 0.2,
       0.3, 0.1, 0.2, 0.4, 0.1, 0.5, 0.2, 0.1, 0.3, 0.2,
       0.1, 0.3, 0.2, 0.85, 0.3, 0.4, 0.5, 0.2, 0.3, 0.1,
       0.2, 0.4, 0.1, 0.3, 0.2, 0.1, 0.4, 0.2, 0.3, 0.1,
       0.3, 0.2, 0.1, 0.2, 0.1]
D_Q = [0.2, -0.1, 0.5, -0.2, 0.3, 0.0, 0.6, -0.3, 0.1, 0.4,
       -0.2, 0.3, 0.6, -0.1, 0.2, 0.5, -0.3, 0.2, 0.6, 0.4,
       0.8, 0.7, 0.5, 0.2, 0.4, -0.3, 0.3, 0.5, -0.2, 0.1,
       0.5, -0.4, 0.6, 0.1, -0.7, 0.3, -1.0, 0.4, -0.6, 0.2,
       -0.8, 0.3, 0.7, -0.2, 0.5, -0.4, 0.1, 0.6, -0.3, 0.2,
       -0.6, 0.3, 0.0, 0.5, -0.4, 0.2, 0.6, -0.2, 0.3, -0.5,
       0.4, -0.1, 0.5, -0.3, 0.2, 0.6, -0.2, 0.3, -0.4, 0.1,
       0.5, -0.3, 0.2, 0.6, -0.5, 0.1, 0.4, -0.2, 0.3, -0.6,
       0.2, 0.5, -0.3, 0.1, 0.6, -0.2, 0.3, -0.5, 0.4, 0.0,
       0.6, -0.8, 0.2, 0.4, -0.3, 0.5, 0.1, -0.4, 0.6, 0.0,
       0.3, -0.5, 0.4, 0.1, -0.7, 0.5, 0.0, -0.3, 0.4, 0.2,
       0.6, 0.3, -0.2, 0.5, -0.4, 0.2, 0.6, -0.3, 0.1, 0.5,
       -0.2, 0.4, 0.0, -0.5, 0.3, 0.6, -0.1, 0.2, -0.4, 0.5,
       0.1, -0.3, 0.6, 0.2, -0.4, 0.4, 0.0, 0.5, -0.2, 0.3,
       0.6, -0.1, 0.3, -0.5, 0.4, 0.1, -0.3, 0.5, 0.0, 0.3,
       -0.6, 0.2, 0.4, -0.1, 0.3, 0.5, -0.2, 0.1, 0.6, 0.2,
       -0.4, 0.3, 0.6, 0.0, 0.5, -0.2, 0.4, 0.1, 0.6, -0.3,
       0.3, 0.5, 0.0, 0.4, 0.6]
D_U = [-0.1, 0.3, -0.2, 0.6, 0.0, -0.4, 0.2, 0.5, -0.3, 0.1,
       0.4, -0.2, 0.3, 0.0, -0.3, 0.5, 0.1, 0.3, 0.2, 0.6,
       0.7, 0.5, 0.2, -0.2, 0.3, 0.5, -0.4, 0.2, 0.1, -0.3,
       0.2, 0.4, -0.5, 0.1, 0.6, -0.3, 0.2, -0.6, 0.4, -0.2,
       0.1, -0.7, 0.5, 0.0, -0.3, 0.4, 0.2, -0.4, 0.1, 0.3,
       -0.95, 0.4, -0.2, 0.3, 0.0, -0.4, 0.5, 0.1, -0.2, 0.3,
       0.0, 0.5, -0.3, 0.2, 0.4, -0.2, 0.1, 0.6, -0.4, 0.2,
       0.3, -0.3, 0.5, 0.0, -0.2, 0.4, 0.1, -0.5, 0.3, 0.0,
       -0.3, 0.4, 0.1, -0.2, 0.5, 0.0, -0.4, 0.3, 0.1, 0.6,
       0.2, -0.4, 0.3, 0.0, 0.5, -0.2, 0.4, 0.1, -0.3, 0.6,
       0.0, 0.4, -0.3, 0.2, 0.6, -0.1, 0.3, -0.4, 0.2, 0.1,
       0.5, 0.3, -0.2, 0.4, 0.1, -0.3, 0.6, 0.0, -0.2, 0.4,
       0.1, -0.3, 0.5, 0.2, -0.1, 0.3, 0.0, -0.4, 0.4, 0.2,
       -0.6, 0.2, 0.4, -0.2, 0.1, 0.5, -0.3, 0.2, 0.0, 0.6,
       0.2, -0.4, 0.3, 0.1, -0.2, 0.4, 0.6, -0.3, 0.2, 0.0,
       0.3, -0.2, 0.5, 0.1, -0.3, 0.6, 0.2, -0.1, 0.4, 0.0,
       0.2, 0.5, -0.3, 0.1, 0.4, -0.2, 0.6, 0.0, 0.3, -0.4,
       0.1, 0.5, -0.2, 0.3, 0.1]
D_MC = [(62.8, 0.07, [-20, -50, -60, -65, -70, -72, -68, -60, -50, -42, -35, -30]),
        (63.72, 0.07, [-5, -10, -3, 15, 38, 48, 30, 15, 10, -5, -12, -8, -20, -10, -18, -25, -12, -22,
                       -30, -42, -20, -10, 5, 12, 20, 35, 28, 18, 8, -12, -20, -30, -18, -8, 5, 12, 20,
                       25, 15, 25, 20, 10, 0, -10, -20, -45, -15, 8, 25, 40, 77, 50, 5, -10, -18, -12,
                       -25, -60, -15]),
        (76.45, 0.07, [-95, -88, -60, -90, -5]),
        (78.82, 0.07, [92, 88, 90, 25]),
        (83.3, 0.07, [20, 70, 60, 75, 50, 85, 100, 60, 68, 70, 45, 85, 70, 85])]
D_ML = [(62.62, 0.095, [17, 18, 15, 22, 18, 22, 25, 20, 25, 27, 22, 28, 65, 48, 90, 58, 30, 28, 25, 28,
                        22, 30, 25, 22, 28, 27, 25, 20, 64, 20, 25, 30, 22, 45, 48, 33, 28, 35, 25, 42,
                        45, 60, 55, 30, 70, 50, 64, 40, 58, 60, 25, 70, 30, 55, 45, 38, 55, 40, 28, 42,
                        30]),
        (76.42, 0.07, [60, 38, 25, 15, 37]),
        (83.2, 0.07, [48, 50, 51, 20, 15, 12])]
D_CHI_V = [63.09, 63.2, 63.26, 63.34, 63.41, 63.34, 63.47, 63.51,
           65.73, 65.86, 65.9, 65.94, 66.0, 66.04, 66.1,
           67.66, 67.72, 67.79,
           76.44, 76.59, 76.69, 76.59, 76.74,
           83.17, 83.28, 83.38, 83.28, 83.44, 83.55]
D_CHI = [-10, -7, 4, 8, 13, -7, 2, 0,
         31, 15, 23, 58, 25, 58, 59,
         87, 24, -8,
         30, 32, 34, 13, 4,
         62, 59, 55, -42, -47, -48]

# tick values
A_XTICKS = [16, 18, 20, 22, 24, 26, 28, 30, 32, 34]
A_YTICKS = [0, 2, 4, 6]
B_YTICKS = [-1.0, -0.5, 0.0, 0.5, 1.0, 1.5, 2.0, 2.5]
C_XTICKS = [64, 66, 68, 70, 72, 74, 76, 78]
C_YTICKS = [-15, -10, -5, 0, 5, 10, 15, 20, 25]
D_XTICKS = [60, 65, 70, 75, 80, 85]
D_YTICKS = [-3, -2, -1, 0, 1, 2, 3, 4]
MC_TICKS = [-100, 0, 100]
MC_TICKS_C = [-100, -50, 0, 50, 100]
ML_TICKS = [0, 50, 100]
CHI_TICKS = [-100, 0, 100]

SERIES = [("I", "black", 2.6), ("V", "blue", 1.0), ("p", "red", 1.0), ("Q", "yellow", 1.0), ("U", "orange", 1.0)]


def fmt(dec, minus="\u2212"):
    return CustomJSTickFormatter(args=dict(d=dec, m=minus),
                                 code="const s = Math.abs(tick).toFixed(d); return (tick < 0 ? m : '') + s;")


def mk(xr, yr, fw, fh, bl, br, bt, bb, xaxis=True, mtop=0):
    kw = dict(x_range=Range1d(*xr), y_range=Range1d(*yr), frame_width=fw, frame_height=fh,
              min_border_left=bl, min_border_right=br, min_border_top=bt, min_border_bottom=bb,
              output_backend="svg", toolbar_location=None, tools="")
    if not xaxis:
        kw["x_axis_location"] = None
    p = figure(**kw)
    p.xgrid.visible = False
    p.ygrid.visible = False
    p.outline_line_color = "black"
    p.outline_line_alpha = 1.0
    p.outline_line_width = 1
    p.background_fill_alpha = 0
    p.border_fill_alpha = 0
    if mtop:
        p.margin = (mtop, 0, 0, 0)
    return p


def text_fig(fw, height, bl, br, mtop=0):
    p = figure(x_range=Range1d(0, 1), y_range=Range1d(0, 1), frame_width=fw, frame_height=height,
               min_border_left=bl, min_border_right=br, min_border_top=0, min_border_bottom=0,
               x_axis_location=None, y_axis_location=None, output_backend="svg",
               toolbar_location=None, tools="")
    p.xgrid.visible = False
    p.ygrid.visible = False
    p.outline_line_color = None
    p.background_fill_alpha = 0
    p.border_fill_alpha = 0
    if mtop:
        p.margin = (mtop, 0, 0, 0)
    return p


def style(ax, ticks, formatter, standoff):
    ax.ticker = FixedTicker(ticks=list(ticks), minor_ticks=[])
    ax.formatter = formatter
    ax.major_label_text_font = FONT
    ax.major_label_text_font_size = "14.5px"
    ax.major_label_text_color = "black"
    ax.major_label_standoff = standoff
    ax.major_tick_out = 5
    ax.major_tick_in = 0
    ax.minor_tick_out = 0
    ax.minor_tick_in = 0
    ax.axis_line_color = "black"
    ax.major_tick_line_color = "black"


def lab(p, x, y, text, size=14.5, style_="normal", align="left"):
    # y is the wanted baseline (px above the frame bottom); the label is anchored at its middle
    p.add_layout(Label(x=x, y=y + 0.35 * size, x_units="screen", y_units="screen", text=text,
                       text_font=FONT, text_font_size=f"{size}px", text_font_style=style_,
                       text_color="black", text_align=align, text_baseline="middle"))


def zero(p):
    p.add_layout(Span(location=0, dimension="width", line_color="black", line_width=1, line_dash="1 2"))


def expand(segs):
    xs, ys, ws = [], [], []
    for start, step, vals in segs:
        for i, v in enumerate(vals):
            xs.append(start + i * step)
            ys.append(v)
            ws.append(step * 0.88)
    return xs, ys, ws


def panel(title, vel, spectra, mc, ml, chiv, chi, xticks, yticks, ydec, mcticks, mcfmt, g):
    fw, bl, br = g["fw"], g["bl"], g["br"]
    xr = g["xr"]
    figs = []
    # ---- title ----
    th, ty = g["title"]
    t = text_fig(fw, th, bl, br)
    lab(t, fw / 2, ty, title, size=17.5, align="center")
    figs.append(t)
    # ---- spectrum ----
    fh, bb = g["spec"]
    p = mk(xr, g["yr"], fw, fh, bl, br, 0, bb)
    items = []
    for (name, color, lw), arr in zip(SERIES, spectra):
        x = np.linspace(vel[0], vel[1], len(arr))
        r = p.line(x, arr, line_color=color, line_width=lw)
        items.append(LegendItem(label=name, renderers=[r]))
    zero(p)
    leg = Legend(items=items, location=g["legend"], label_text_font=FONT, label_text_font_size="14px",
                 label_text_color="black", glyph_width=29, glyph_height=18, label_height=18, spacing=2,
                 padding=5, margin=g["lmargin"], label_standoff=9, border_line_alpha=0,
                 background_fill_alpha=0)
    p.add_layout(leg)
    style(p.xaxis[0], xticks, fmt(0), 3)
    style(p.yaxis[0], yticks, fmt(ydec), 4)
    p.yaxis.axis_label = "Flux density (Jy)"
    p.yaxis.axis_label_text_font = FONT
    p.yaxis.axis_label_text_font_size = "14.5px"
    p.yaxis.axis_label_text_font_style = "normal"
    p.yaxis.axis_label_text_color = "black"
    p.yaxis.axis_label_standoff = 3
    figs.append(p)
    # ---- m_C ----
    p = mk(xr, g["mcr"], fw, g["mc"], bl, br, 10, 10, xaxis=False, mtop=-10)
    xs, ys, ws = expand(mc)
    p.vbar(x=xs, top=ys, bottom=0, width=ws, fill_color="black", line_color=None)
    zero(p)
    style(p.yaxis[0], mcticks, mcfmt, 4)
    lab(p, 7, g["mc"] - 19, "m", style_="italic")
    lab(p, 21, g["mc"] - 22, "C", size=10.2, style_="italic")
    lab(p, 28, g["mc"] - 19, "(%)")
    figs.append(p)
    # ---- m_L ----
    p = mk(xr, g["mlr"], fw, g["ml"], bl, br, 10, 10, xaxis=False, mtop=-20)
    xs, ys, ws = expand(ml)
    p.vbar(x=xs, top=ys, bottom=0, width=ws, fill_color="black", line_color=None)
    style(p.yaxis[0], ML_TICKS, fmt(0), 4)
    lab(p, 7, g["ml"] - 18, "m", style_="italic")
    lab(p, 21, g["ml"] - 21, "L", size=10.2, style_="italic")
    lab(p, 27, g["ml"] - 18, "(%)")
    figs.append(p)
    # ---- chi ----
    fhc, bbc = g["chi"]
    p = mk(xr, g["chir"], fw, fhc, bl, br, 10, bbc, mtop=-20)
    n = min(len(chiv), len(chi))
    p.scatter(chiv[:n], chi[:n], size=4.8, fill_color="black", line_color="black")
    zero(p)
    style(p.xaxis[0], xticks, fmt(0), 3)
    style(p.yaxis[0], CHI_TICKS, fmt(0), 4)
    lab(p, 7, fhc - 19, "\u03c7(deg)", style_="italic")
    figs.append(p)
    # ---- x label ----
    xh, xy, xm = g["xlab"]
    t = text_fig(fw, xh, bl, br, mtop=xm)
    cx = fw / 2
    lab(t, cx - 48, xy, "V", style_="italic")
    lab(t, cx - 38.5, xy - 3, "LSR", size=10.2, style_="italic")
    lab(t, cx - 16, xy, "(km s\u207b\u00b9)")
    figs.append(t)
    return column(*figs, spacing=0)


GA = dict(bl=62, fw=414, br=164, xr=(16, 34), yr=(-1.79, 7.8), title=(25, 6.5), spec=(331, 28), mc=108,
          ml=110, chi=(109, 27), xlab=(62, 47.3, 0), mcr=(-111, 110), mlr=(0, 110), chir=(-140, 139),
          legend="top_left", lmargin=5)
GB = dict(bl=66, fw=412, br=12, xr=(16, 34), yr=(-1.2, 2.6), title=(25, 6.5), spec=(329, 27), mc=108,
          ml=108, chi=(109, 27), xlab=(67, 53.3, 0), mcr=(-111, 110), mlr=(0, 110), chir=(-140, 141),
          legend="top_left", lmargin=5)
GC = dict(bl=68, fw=411, br=161, xr=(64, 78), yr=(-17.98, 27.1), title=(27, 7.7), spec=(328, 29), mc=107,
          ml=108, chi=(108, 27), xlab=(32, 17, 0), mcr=(-110, 107), mlr=(0, 110), chir=(-140, 140),
          legend="top_left", lmargin=5)
GD = dict(bl=59, fw=419, br=12, xr=(60, 86.1), yr=(-3.04, 4.51), title=(27, 7.7), spec=(335, 27), mc=110,
          ml=110, chi=(111, 27), xlab=(27, 11.3, -6), mcr=(-109.5, 110.5), mlr=(0, 111), chir=(-140, 142),
          legend="top_right", lmargin=2)

colA = panel(A_TITLE, A_VEL, [A_I, A_V, A_P, A_Q, A_U], A_MC, A_ML, A_CHI_V, A_CHI,
             A_XTICKS, A_YTICKS, 0, MC_TICKS, fmt(0), GA)
colB = panel(B_TITLE, B_VEL, [B_I, B_V, B_P, B_Q, B_U], B_MC, B_ML, B_CHI_V, B_CHI,
             A_XTICKS, B_YTICKS, 1, MC_TICKS, fmt(0), GB)
colC = panel(C_TITLE, C_VEL, [C_I, C_V, C_P, C_Q, C_U], C_MC, C_ML, C_CHI_V, C_CHI,
             C_XTICKS, C_YTICKS, 0, MC_TICKS_C, fmt(0, "-"), GC)
colD = panel(D_TITLE, D_VEL, [D_I, D_V, D_P, D_Q, D_U], D_MC, D_ML, D_CHI_V, D_CHI,
             D_XTICKS, D_YTICKS, 0, MC_TICKS, fmt(0), GD)

page = column(row(colA, colB, spacing=0), row(colC, colD, spacing=0), spacing=0)
open("out.html", "w").write(file_html(page, INLINE))
